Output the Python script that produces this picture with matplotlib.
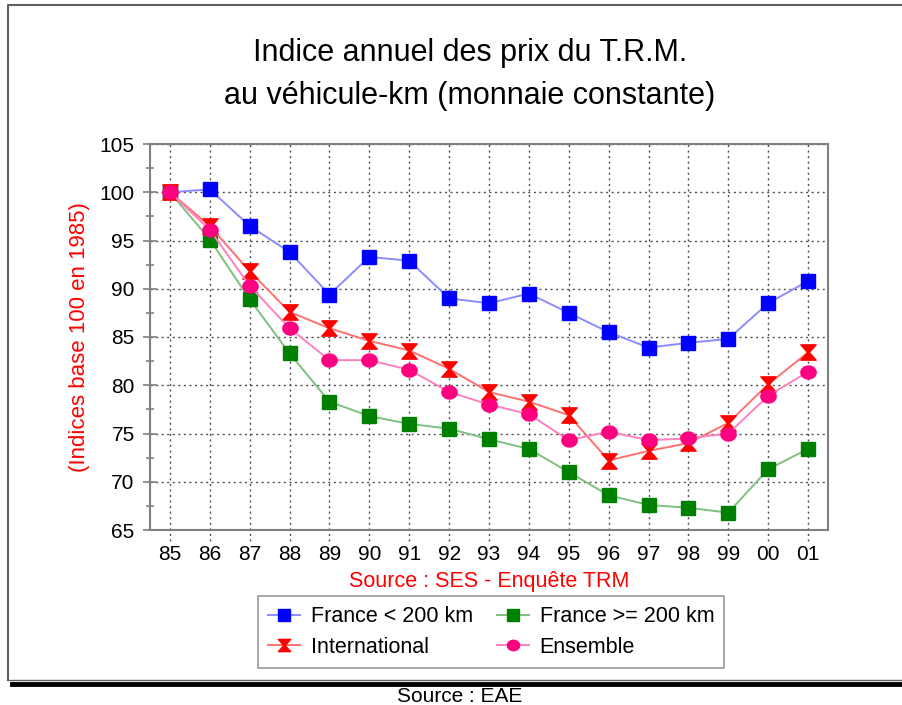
import numpy as np
import matplotlib.pyplot as plt
from matplotlib.path import Path
from matplotlib.lines import Line2D

plt.rcParams['font.family'] = ['Liberation Sans', 'DejaVu Sans']

annees = ["85", "86", "87", "88", "89", "90", "91", "92", "93",
          "94", "95", "96", "97", "98", "99", "00", "01"]

france_moins_200 = [100, 100.3, 96.5, 93.8, 89.4, 93.3, 92.9, 89.0, 88.5,
                    89.5, 87.5, 85.5, 83.9, 84.4, 84.8, 88.5, 90.8]
france_plus_200 = [100, 95.1, 88.9, 83.3, 78.3, 76.8, 76.0, 75.5, 74.4,
                   73.4, 71.0, 68.6, 67.6, 67.3, 66.8, 71.3, 73.4]
international = [100, 96.5, 91.8, 87.6, 85.9, 84.6, 83.6, 81.7, 79.3,
                 78.3, 76.9, 72.2, 73.2, 74.0, 76.1, 80.1, 83.4]
ensemble = [100, 96.1, 90.3, 85.9, 82.6, 82.6, 81.6, 79.3, 78.0,
            77.0, 74.3, 75.2, 74.3, 74.5, 75.0, 78.9, 81.4]

# marqueurs maison : sablier et cercle un peu aplati
sablier = Path([(-1, 1), (1, 1), (0.12, 0), (1, -1), (-1, -1), (-0.12, 0), (-1, 1)],
               [Path.MOVETO] + [Path.LINETO] * 5 + [Path.CLOSEPOLY])
t = np.linspace(0, 2 * np.pi, 40)
ovale = Path(np.column_stack([np.cos(t), 0.85 * np.sin(t)]), closed=True)

x = np.arange(len(annees))

fig = plt.figure(figsize=(9.02, 7.05), dpi=100)
ax = fig.add_axes([150 / 902, 175 / 705, 678 / 902, 386 / 705])

series = [
    (france_moins_200, "France < 200 km", "s", "#0000ff", "#8c8cff", 10),
    (france_plus_200, "France >= 200 km", "s", "#008000", "#80c080", 10),
    (international, "International", sablier, "#ff0000", "#ff7070", 11),
    (ensemble, "Ensemble", ovale, "#ff0080", "#ff80c0", 11),
]
lignes = []
for vals, nom, mk, c_mk, c_ligne, ms in series:
    l, = ax.plot(x, vals, color=c_ligne, lw=1.4, marker=mk, ms=ms,
                 markerfacecolor=c_mk, markeredgecolor=c_mk, label=nom, zorder=3)
    lignes.append(l)

ax.set_xlim(-0.5, len(annees) - 0.5)
ax.set_ylim(65, 105)
ax.set_yticks(np.arange(65, 106, 5))
ax.set_yticks(np.arange(67.5, 105, 5), minor=True)
ax.set_xticks(x)
ax.set_xticklabels(annees)

ax.grid(axis='y', which='major', color='#505050', ls=(0, (1.5, 2.5)), lw=1)
ax.vlines(x, -0.028, 1, transform=ax.get_xaxis_transform(), color='#505050',
          ls=(0, (1.5, 2.5)), lw=1, clip_on=False, zorder=1)

for s in ax.spines.values():
    s.set_color('#808080')
    s.set_linewidth(1.5)

ax.tick_params(axis='y', which='major', direction='inout', length=10,
               color='#808080', width=1.2, labelsize=15, pad=6)
ax.tick_params(axis='y', which='minor', direction='inout', length=6,
               color='#808080', width=1.2)
ax.tick_params(axis='x', length=0, labelsize=15, pad=11)

ax.set_ylabel("(Indices base 100 en 1985)", color='red', fontsize=16, labelpad=7)
ax.set_xlabel("Source : SES - Enquête TRM", color='red', fontsize=15.5, labelpad=5)

fig.text(0.521, 1 - 53 / 705, "Indice annuel des prix du T.R.M.", ha='center',
         va='center', fontsize=22)
fig.text(0.521, 1 - 96 / 705, "au véhicule-km (monnaie constante)", ha='center',
         va='center', fontsize=22)

# ordre colonne par colonne pour avoir les deux France sur la premiere ligne
ordre = [lignes[0], lignes[2], lignes[1], lignes[3]]
leg = fig.legend(ordre, [l.get_label() for l in ordre], loc='center',
                 bbox_to_anchor=(491 / 902, 1 - 632 / 705), ncol=2,
                 fontsize=15.5, frameon=True, fancybox=False, edgecolor='#808080',
                 borderpad=0.45, columnspacing=1.1, handlelength=1.5,
                 handletextpad=0.5, labelspacing=0.45, markerscale=0.8)
leg.get_frame().set_linewidth(1.2)

# cadre exterieur et ombre
fig.add_artist(Line2D([8 / 902, 8 / 902, 1], [1 - 680 / 705, 1 - 5 / 705, 1 - 5 / 705],
                      color='#606060', lw=1.5))
fig.add_artist(Line2D([8 / 902, 1], [1 - 680 / 705, 1 - 680 / 705],
                      color='#606060', lw=1))
fig.add_artist(Line2D([12 / 902, 1], [1 - 684 / 705, 1 - 684 / 705],
                      color='black', lw=3.5))

fig.text(460 / 902, 1 - 696 / 705, "Source : EAE", ha='center', va='center',
         fontsize=15)

fig.savefig("out.png", dpi=100)
